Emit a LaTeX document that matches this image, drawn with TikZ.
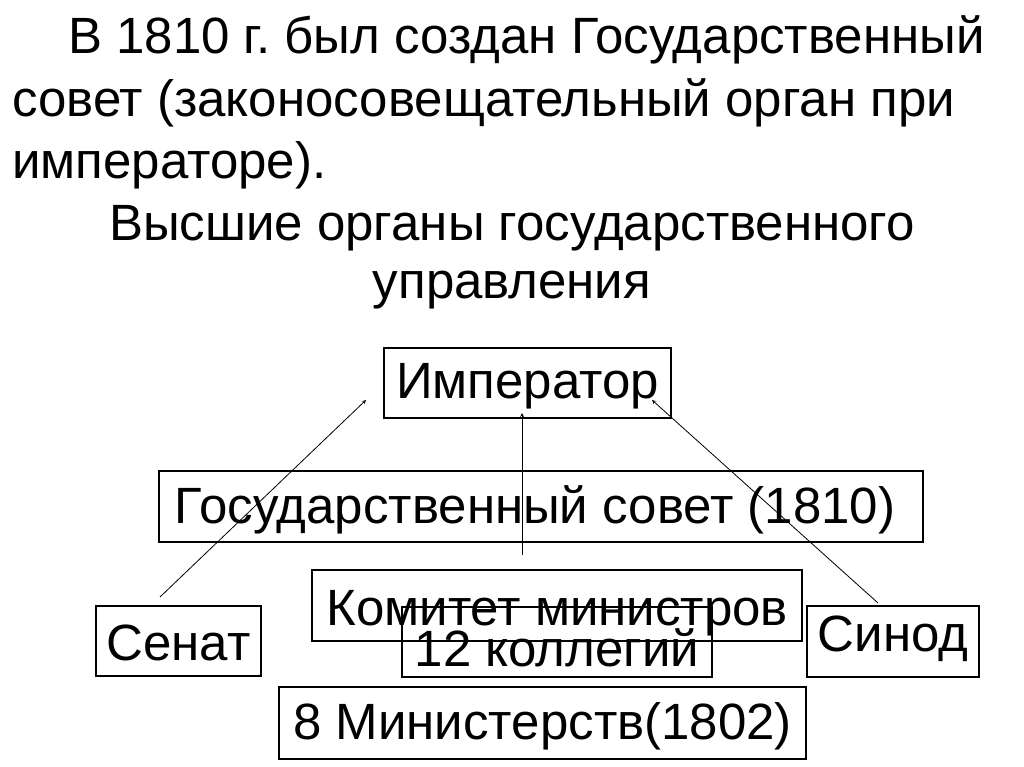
\documentclass[tikz,border=0pt]{standalone}
\usepackage{fontspec}
\setmainfont{Liberation Sans}
\frenchspacing
\begin{document}
\begin{tikzpicture}[x=1pt,y=-1pt,
  bx/.style={draw,line width=2.2pt,inner sep=0pt,anchor=north west},
  big/.style={font=\fontsize{51}{60}\selectfont,inner sep=0pt},
  ttl/.style={font=\fontsize{51}{62}\selectfont,anchor=west,inner sep=0pt},
  arr/.style={-stealth,line width=0.8pt}]
\useasboundingbox (0,0) rectangle (1024,767);
\node[ttl] (t1) at (68,40) {В 1810 г. был создан Государственный};
\node[ttl] (t2) at (12,103) {совет (законосовещательный орган при};
\node[ttl] (t3) at (12,165) {императоре).};
\node[ttl,anchor=center] (t4) at (512,228) {Высшие органы государственного};
\node[ttl,anchor=center] (t5) at (512,290) {управления};
\node[bx,minimum width=287pt,minimum height=70pt] (imp) at (383,347) {};
\node[big] at ([yshift=-3pt]imp.center) {Император};
\node[bx,minimum width=764pt,minimum height=71pt] (gs) at (158,470) {};
\node[big] at ([xshift=-6pt,yshift=-3pt]gs.center) {Государственный совет (1810)};
\node[bx,minimum width=490pt,minimum height=71pt] (km) at (311,569) {};
\node[big] at ([yshift=-8pt]km.center) {Комитет министров};
\node[bx,minimum width=165pt,minimum height=70pt] (sen) at (95,605) {};
\node[big] at ([yshift=-2pt]sen.center) {Сенат};
\node[bx,minimum width=310pt,minimum height=70pt] (kol) at (401,606) {};
\node[big] at ([yshift=-6pt]kol.center) {12 коллегий};
\node[bx,minimum width=172pt,minimum height=71pt] (sin) at (806,605) {};
\node[big] at ([yshift=3pt]sin.center) {Синод};
\node[bx,minimum width=527pt,minimum height=72pt] (min) at (278,686) {};
\node[big] at ([yshift=-3pt]min.center) {8 Министерств(1802)};
\coordinate (a1) at (160,597); \coordinate (b1) at (366,400);
\coordinate (a2) at (522,555); \coordinate (b2) at (522,413);
\coordinate (a3) at (878,603); \coordinate (b3) at (652,400);
\draw[arr] (a1) -- (b1);
\draw[arr] (a2) -- (b2);
\draw[arr] (a3) -- (b3);
\end{tikzpicture}
\end{document}
